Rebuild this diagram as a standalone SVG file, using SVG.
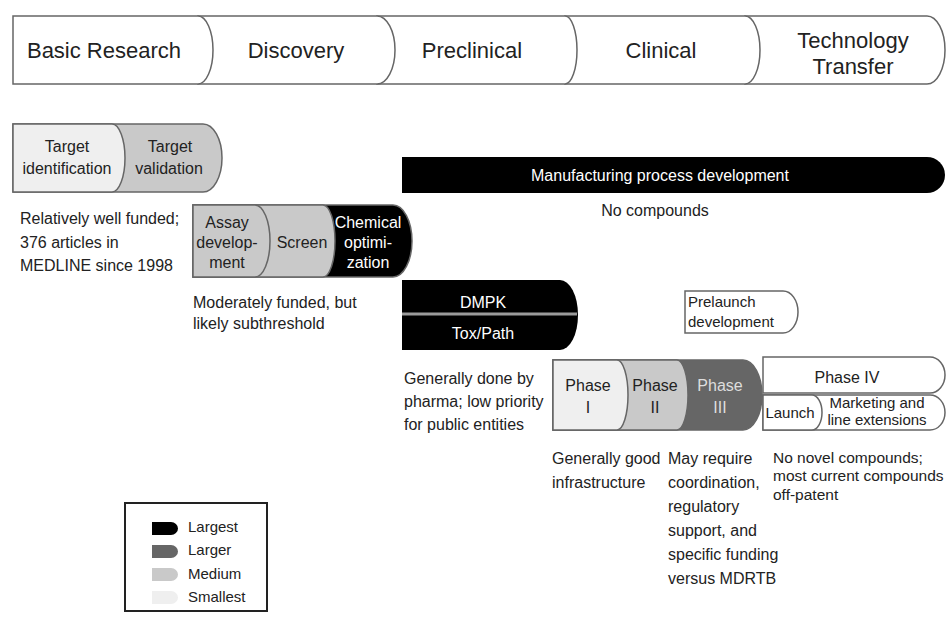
<svg xmlns="http://www.w3.org/2000/svg" width="948" height="618" viewBox="0 0 948 618">
<style>
text{font-family:'Liberation Sans',Arial,sans-serif;fill:#222}
.h{font-size:22px;text-anchor:middle}
.n{font-size:16px;text-anchor:middle}
.s{font-size:15px;text-anchor:middle}
.a{font-size:16px}
.al{font-size:15.5px}
.lg{font-size:15px}
.w{fill:#fff}
.g3{fill:#ddd}
.seg{fill:#fff;stroke:#666;stroke-width:1.5}
.bx{stroke:#666;stroke-width:1.5}
.c0{fill:#000}
.c1{fill:#666}
.c2{fill:#c9c9c9}
.c3{fill:#efefef}
.cw{fill:#fff}
</style>
<rect width="948" height="618" fill="#fff"/>
<g id="header">
<g id="tech-transfer"><path class="seg" d="M745,16 H927 A18,34 0 0 1 927,84 H745 Z"/><text class="h" x="853" y="48">Technology</text><text class="h" x="853" y="74">Transfer</text></g>
<g id="clinical"><path class="seg" d="M565,16 H745 A15,34 0 0 1 745,84 H565 Z"/><text class="h" x="661" y="58">Clinical</text></g>
<g id="preclinical"><path class="seg" d="M377,16 H565 A12,34 0 0 1 565,84 H377 Z"/><text class="h" x="472" y="58">Preclinical</text></g>
<g id="discovery"><path class="seg" d="M198,16 H377 A18,34 0 0 1 377,84 H198 Z"/><text class="h" x="296" y="58">Discovery</text></g>
<g id="basic-research"><path class="seg" d="M13,16 H198 A15,34 0 0 1 198,84 H13 Z"/><text class="h" x="104" y="58">Basic Research</text></g>
</g>
<g id="connectors"/>
<g id="target">
<path class="bx c2" d="M13,124 H203 A19,34 0 0 1 203,192 H13 Z"/>
<path class="bx c3" d="M13,124 H112 A13,34 0 0 1 112,192 H13 Z"/>
<text class="n" x="67" y="152">Target</text><text class="n" x="67" y="174">identification</text>
<text class="n" x="170" y="152">Target</text><text class="n" x="169" y="174">validation</text>
</g>
<g id="note-basic">
<text class="a" x="20" y="224">Relatively well funded;</text>
<text class="a" x="20" y="248">376 articles in</text>
<text class="a" x="20" y="271">MEDLINE since 1998</text>
</g>
<g id="manufacturing">
<path class="c0" d="M402,157 H927 A18,18 0 0 1 927,193 H402 Z"/>
<text class="n w" x="660" y="181">Manufacturing process development</text>
</g>
<g id="note-manufacturing"><text class="n" x="655" y="216">No compounds</text></g>
<g id="discovery-steps">
<path class="bx c0" d="M193,205 H393 A19,36 0 0 1 393,277 H193 Z"/>
<path class="bx c2" d="M193,205 H323 A12,36 0 0 1 323,277 H193 Z"/>
<path class="bx c2" d="M193,205 H255 A15,36 0 0 1 255,277 H193 Z"/>
<text class="n" x="227" y="228">Assay</text><text class="n" x="227" y="248">develop-</text><text class="n" x="227" y="268">ment</text>
<text class="n" x="302" y="248">Screen</text>
<text class="n w" x="368" y="228">Chemical</text><text class="n w" x="368" y="248">optimi-</text><text class="n w" x="368" y="268">zation</text>
</g>
<g id="note-discovery">
<text class="a" x="193" y="308">Moderately funded, but</text>
<text class="a" x="193" y="329">likely subthreshold</text>
</g>
<g id="dmpk">
<path class="c0" d="M402,280 H560 A18,35 0 0 1 560,350 H402 Z"/>
<line x1="402" y1="314" x2="577" y2="314" stroke="#9a9a9a" stroke-width="3"/>
<text class="n w" x="483" y="308">DMPK</text>
<text class="n w" x="483" y="339">Tox/Path</text>
</g>
<g id="note-dmpk">
<text class="a" x="404" y="384">Generally done by</text>
<text class="a" x="404" y="407">pharma; low priority</text>
<text class="a" x="404" y="430">for public entities</text>
</g>
<g id="prelaunch">
<path class="bx cw" d="M685,291 H783 A15,21 0 0 1 783,333 H685 Z"/>
<text class="lg" x="688" y="307">Prelaunch</text>
<text class="lg" x="688" y="327">development</text>
</g>
<g id="phases">
<path class="bx c1" d="M553,360 H743 A19,35 0 0 1 743,430 H553 Z"/>
<path class="bx c2" d="M553,360 H677 A11,35 0 0 1 677,430 H553 Z"/>
<path class="bx c3" d="M553,360 H617 A11,35 0 0 1 617,430 H553 Z"/>
<text class="n" x="588" y="391">Phase</text><text class="n" x="588" y="413">I</text>
<text class="n" x="655" y="391">Phase</text><text class="n" x="655" y="413">II</text>
<text class="n g3" x="720" y="391">Phase</text><text class="n g3" x="720" y="413">III</text>
</g>
<g id="phase-iv">
<path class="bx cw" d="M763,357 H930 A15,18 0 0 1 930,393 H763 Z"/>
<text class="n" x="847" y="383">Phase IV</text>
</g>
<g id="launch-marketing">
<path class="bx cw" d="M763,395 H930 A15,17.5 0 0 1 930,430 H763 Z"/>
<path class="bx cw" d="M763,395 H812 A10,17.5 0 0 1 812,430 H763 Z"/>
<text class="s" x="790" y="418">Launch</text>
<text class="s" x="877" y="408">Marketing and</text>
<text class="s" x="877" y="425">line extensions</text>
</g>
<g id="note-phase1">
<text class="a" x="552" y="464">Generally good</text>
<text class="a" x="552" y="488">infrastructure</text>
</g>
<g id="note-phase3">
<text class="a" x="668" y="464">May require</text>
<text class="a" x="668" y="488">coordination,</text>
<text class="a" x="668" y="512">regulatory</text>
<text class="a" x="668" y="536">support, and</text>
<text class="a" x="668" y="560">specific funding</text>
<text class="a" x="668" y="584">versus MDRTB</text>
</g>
<g id="note-phase4">
<text class="al" x="773" y="463">No novel compounds;</text>
<text class="al" x="773" y="481">most current compounds</text>
<text class="al" x="773" y="500">off-patent</text>
</g>
<g id="legend">
<rect x="125" y="503" width="142" height="108" fill="none" stroke="#222" stroke-width="2"/>
<path class="c0" d="M152,522 H171 A7,6.5 0 0 1 171,535 H152 Z"/>
<path class="c1" d="M152,545 H171 A7,6.5 0 0 1 171,558 H152 Z"/>
<path class="c2" d="M152,568 H171 A7,6.5 0 0 1 171,581 H152 Z"/>
<path class="c3" d="M152,591 H171 A7,6.5 0 0 1 171,604 H152 Z"/>
<text class="lg" x="188" y="532">Largest</text>
<text class="lg" x="188" y="555">Larger</text>
<text class="lg" x="188" y="579">Medium</text>
<text class="lg" x="188" y="602">Smallest</text>
</g>
</svg>
